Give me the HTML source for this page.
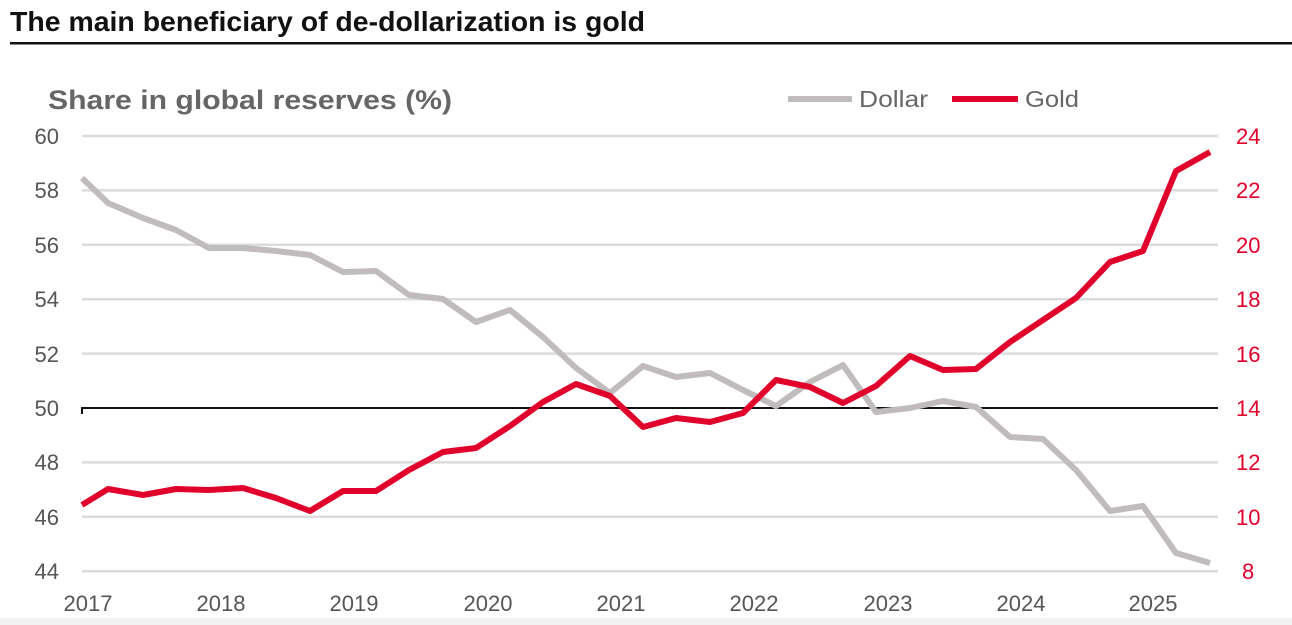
<!DOCTYPE html>
<html><head><meta charset="utf-8"><style>
html,body{margin:0;padding:0;background:#fff;}
body{width:1292px;height:625px;overflow:hidden;position:relative;font-family:"Liberation Sans",sans-serif;}
</style></head><body>
<svg width="1292" height="625" xmlns="http://www.w3.org/2000/svg" style="position:absolute;left:0;top:0">
<text x="10" y="31" font-weight="bold" font-size="28" fill="#111" textLength="635" lengthAdjust="spacingAndGlyphs">The main beneficiary of de-dollarization is gold</text>
<rect x="10" y="42" width="1282" height="2.5" fill="#111"/>
<rect x="0" y="618" width="1292" height="7" fill="#f2f2f2"/>
<text x="48" y="109" font-weight="bold" font-size="27" fill="#666" textLength="404" lengthAdjust="spacingAndGlyphs">Share in global reserves (%)</text>
<line x1="788" y1="99" x2="852" y2="99" stroke="#c0bcbc" stroke-width="6"/>
<text x="859" y="107" font-size="23" fill="#666" textLength="69" lengthAdjust="spacingAndGlyphs">Dollar</text>
<line x1="952" y1="99" x2="1018" y2="99" stroke="#e0002b" stroke-width="6"/>
<text x="1025" y="107" font-size="23" fill="#666" textLength="54" lengthAdjust="spacingAndGlyphs">Gold</text>
<g stroke="#dcdcdc" stroke-width="2.5">
<line x1="82" y1="136" x2="1218" y2="136"/><line x1="82" y1="190.4" x2="1218" y2="190.4"/>
<line x1="82" y1="244.8" x2="1218" y2="244.8"/><line x1="82" y1="299.2" x2="1218" y2="299.2"/>
<line x1="82" y1="353.6" x2="1218" y2="353.6"/><line x1="82" y1="462.4" x2="1218" y2="462.4"/>
<line x1="82" y1="516.8" x2="1218" y2="516.8"/><line x1="82" y1="571.2" x2="1218" y2="571.2"/>
</g>
<line x1="82" y1="408" x2="1218" y2="408" stroke="#111" stroke-width="2"/>
<line x1="82" y1="407" x2="82" y2="414" stroke="#111" stroke-width="2"/>
<g font-size="22" fill="#555" text-anchor="end">
<text x="59" y="144">60</text><text x="59" y="198">58</text><text x="59" y="253">56</text><text x="59" y="307">54</text>
<text x="59" y="362">52</text><text x="59" y="416">50</text><text x="59" y="470">48</text><text x="59" y="525">46</text><text x="59" y="579">44</text>
</g>
<g font-size="22" fill="#e0002b" text-anchor="start">
<text x="1236" y="144">24</text><text x="1236" y="198">22</text><text x="1236" y="253">20</text><text x="1236" y="307">18</text>
<text x="1236" y="362">16</text><text x="1236" y="416">14</text><text x="1236" y="470">12</text><text x="1236" y="525">10</text><text x="1242" y="579">8</text>
</g>
<g font-size="22" fill="#555" text-anchor="middle">
<text x="88" y="611">2017</text><text x="221" y="611">2018</text><text x="354" y="611">2019</text><text x="488" y="611">2020</text>
<text x="621" y="611">2021</text><text x="754" y="611">2022</text><text x="888" y="611">2023</text><text x="1021" y="611">2024</text><text x="1153" y="611">2025</text>
</g>
<polyline fill="none" stroke="#c0bcbc" stroke-width="6" stroke-linejoin="round" points="82,178 108,203 143,218 176,230 209,248 243,248 276,251 310,255 343,272 376,271 409,295 443,299 476,322 510,310 543,337 576,368 610,393 643,366 676,377 710,373 743,390 776,406 810,382 843,365 876,412 910,408 943,401 976,407 1010,437 1043,439 1076,470 1110,511 1143,506 1176,553 1210,563"/>
<polyline fill="none" stroke="#e0002b" stroke-width="6" stroke-linejoin="round" points="82,505 108,489 143,495 176,489 209,490 243,488 276,498 310,511 343,491 376,491 409,470 443,452 476,448 510,426 543,402 576,384 610,396 643,427 676,418 710,422 743,413 776,380 810,387 843,403 876,386 910,356 943,370 976,369 1010,342 1043,320 1076,298 1110,262 1143,251 1176,171 1210,152"/>
</svg>
</body></html>
